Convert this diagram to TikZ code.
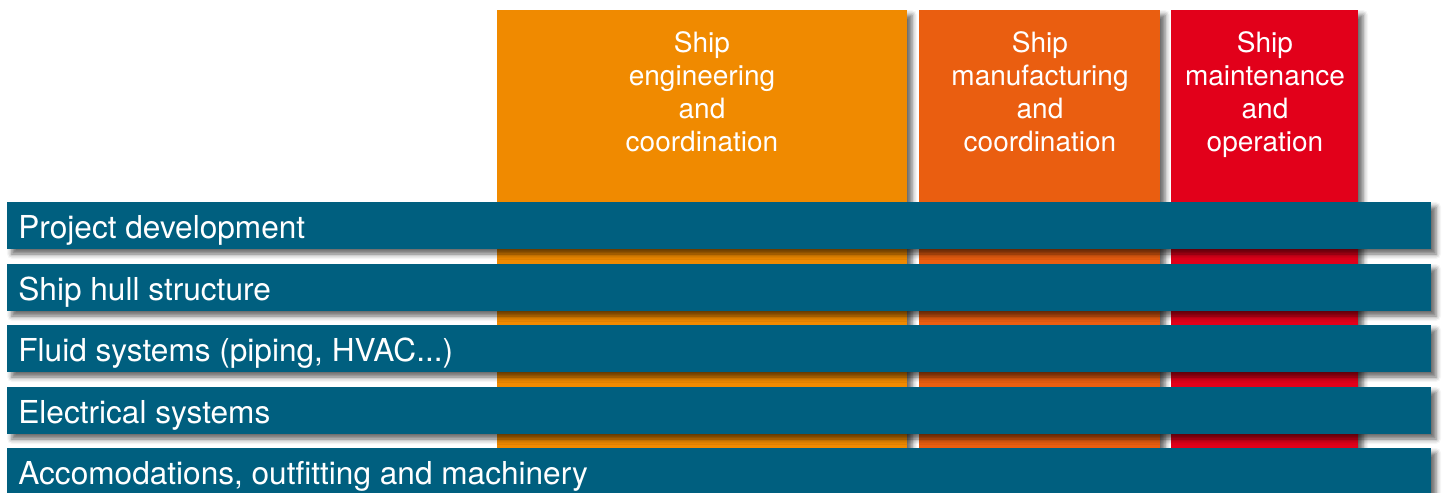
\documentclass[tikz,border=0pt]{standalone}
\usepackage{fontspec}
\setmainfont{TeX Gyre Heros}
\usetikzlibrary{shadows.blur}
\definecolor{colA}{HTML}{F08A00}
\definecolor{colB}{HTML}{EA5E10}
\definecolor{colC}{HTML}{E2001A}
\definecolor{barcol}{HTML}{005F7F}
\tikzset{
  softshadow/.style={blur shadow={shadow xshift=2.5pt, shadow yshift=-2.5pt, shadow blur radius=2.5pt, shadow opacity=60}},
  colbox/.style={softshadow, fill=#1},
  barbox/.style={softshadow, fill=barcol},
  coltext/.style={text=white, align=center, inner sep=0pt, anchor=north, font=\fontsize{14pt}{16.5pt}\selectfont},
  bartext/.style={text=white, inner sep=0pt, anchor=base west, font=\fontsize{15.8pt}{18pt}\selectfont}
}
\begin{document}
\begin{tikzpicture}[x=0.5pt, y=-0.5pt]
\useasboundingbox (0,0) rectangle (1442,493);
% columns
\path[colbox=colA] (497,10) rectangle (907,470);
\path[colbox=colB] (919,10) rectangle (1160,470);
\path[colbox=colC] (1171,10) rectangle (1358,470);
\node[coltext] (c1) at (702,31) {Ship\\engineering\\and\\coordination};
\node[coltext] (c2) at (1040,31) {Ship\\manufacturing\\and\\coordination};
\node[coltext] (c3) at (1265,31) {Ship\\maintenance\\and\\operation};
% bars
\path[barbox] (7,202) rectangle (1431,249);
\path[barbox] (7,264) rectangle (1431,311);
\path[barbox] (7,325) rectangle (1431,372);
\path[barbox] (7,387) rectangle (1431,434);
\path[barbox] (7,448) rectangle (1431,500);
\node[bartext] (b1) at (18,238) {Project development};
\node[bartext] (b2) at (18,300) {Ship hull structure};
\node[bartext] (b3) at (18,361) {Fluid systems (piping, HVAC...)};
\node[bartext] (b4) at (18,423) {Electrical systems};
\node[bartext] (b5) at (18,484) {Accomodations, outfitting and machinery};
\end{tikzpicture}
\end{document}
